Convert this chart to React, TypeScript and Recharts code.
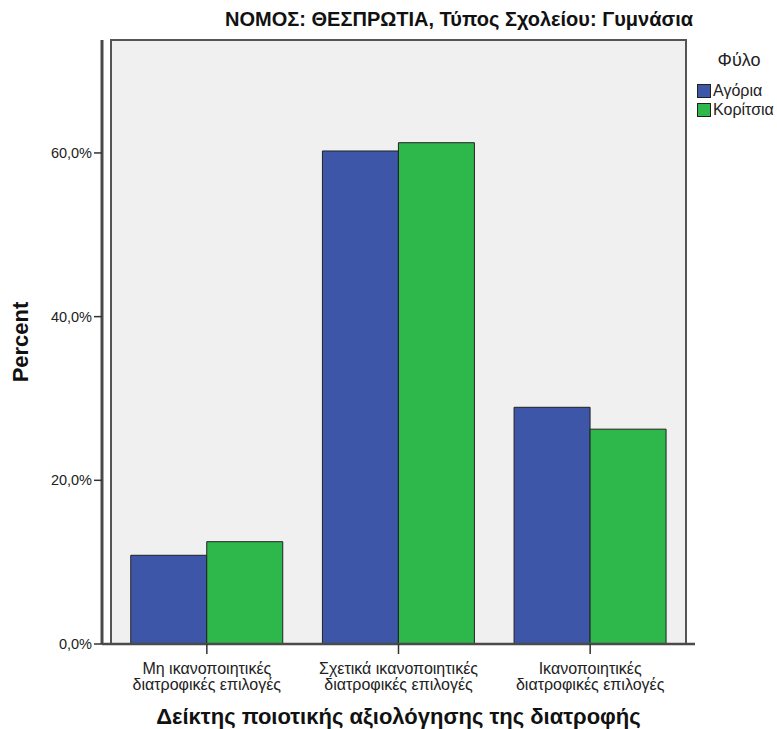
import React from "react";
import { BarChart, Bar, XAxis, YAxis, ReferenceArea } from "recharts";

const categories = [
  "Μη ικανοποιητικές διατροφικές επιλογές",
  "Σχετικά ικανοποιητικές διατροφικές επιλογές",
  "Ικανοποιητικές διατροφικές επιλογές",
];
const boys = [10.84, 60.24, 28.92];
const girls = [12.5, 61.25, 26.25];
const yTicks = [0, 20, 40, 60];
const yMax = 73.8;

const seriesNames = { boys: "Αγόρια", girls: "Κορίτσια" };
const colors = { boys: "#3D56A8", girls: "#2EB74A" };

const data = categories.map((c, i) => ({ category: c, boys: boys[i], girls: girls[i] }));

const FONT = "'Liberation Sans', Arial, sans-serif";

const fmt = (v: number) => v.toFixed(1).replace(".", ",") + "%";

const XTick = (props: any) => {
  const { x, y, payload } = props;
  const words = String(payload.value).split(" ");
  const line1 = words.slice(0, -2).join(" ");
  const line2 = words.slice(-2).join(" ");
  return (
    <g>
      <text x={x} y={y + 18} textAnchor="middle" fontSize={16} fill="#222" fontFamily={FONT}>
        {line1}
      </text>
      <text x={x} y={y + 34} textAnchor="middle" fontSize={16} fill="#222" fontFamily={FONT}>
        {line2}
      </text>
    </g>
  );
};

const LegendBox = () => (
  <div style={{ position: "absolute", left: 697, top: 50, width: 80, fontFamily: FONT, color: "#222" }}>
    <div style={{ fontSize: 18, textAlign: "center", paddingLeft: 4, marginBottom: 10 }}>Φύλο</div>
    {(["boys", "girls"] as const).map((k) => (
      <div key={k} style={{ display: "flex", alignItems: "center", height: 19, fontSize: 16, whiteSpace: "nowrap" }}>
        <span
          style={{
            display: "inline-block",
            flex: "none",
            width: 12,
            height: 12,
            background: colors[k],
            border: "1px solid #222",
            marginRight: 2,
          }}
        />
        {seriesNames[k]}
      </div>
    ))}
  </div>
);

export default function App() {
  return (
    <div style={{ position: "absolute", left: 0, top: 0, width: 777, height: 729, background: "#fff", overflow: "hidden" }}>
      <div
        style={{
          position: "absolute",
          right: 84,
          top: 8,
          fontFamily: FONT,
          fontWeight: "bold",
          fontSize: 20,
          color: "#111",
          whiteSpace: "nowrap",
        }}
      >
        ΝΟΜΟΣ: ΘΕΣΠΡΩΤΙΑ, Τύπος Σχολείου: Γυμνάσια
      </div>
      <LegendBox />
      <BarChart
        width={777}
        height={729}
        data={data}
        margin={{ top: 40, right: 82, bottom: 0, left: 40 }}
        barCategoryGap="10.3%"
        barGap={0}
      >
        <ReferenceArea
          y1={0}
          y2={yMax}
          ifOverflow="visible"
          fill="#F0F0F0"
          fillOpacity={1}
          stroke="#555"
          strokeWidth={2}
        />
        <XAxis
          dataKey="category"
          height={85}
          padding={{ left: 9, right: 9 }}
          interval={0}
          tick={<XTick />}
          tickSize={10}
          tickLine={{ stroke: "#333", strokeWidth: 1.5 }}
          axisLine={{ stroke: "#4a4a4a", strokeWidth: 2.5 }}
          label={{
            value: "Δείκτης ποιοτικής αξιολόγησης της διατροφής",
            position: "insideBottom",
            offset: 5,
            style: { fontFamily: FONT, fontWeight: "bold", fontSize: 22, fill: "#111" },
          }}
        />
        <YAxis
          width={62}
          domain={[0, yMax]}
          ticks={yTicks}
          allowDataOverflow
          tickFormatter={fmt}
          tickSize={8}
          tickMargin={2}
          tick={{ fontFamily: FONT, fontSize: 14.5, fill: "#222" }}
          tickLine={{ stroke: "#333", strokeWidth: 1.5 }}
          axisLine={{ stroke: "#4a4a4a", strokeWidth: 3 }}
          label={{
            value: "Percent",
            angle: -90,
            position: "insideLeft",
            offset: -20,
            style: { fontFamily: FONT, fontWeight: "bold", fontSize: 22, fill: "#111", textAnchor: "middle" },
          }}
        />
        <Bar
          dataKey="boys"
          name={seriesNames.boys}
          fill={colors.boys}
          stroke="#222"
          strokeWidth={1}
          isAnimationActive={false}
        />
        <Bar
          dataKey="girls"
          name={seriesNames.girls}
          fill={colors.girls}
          stroke="#222"
          strokeWidth={1}
          isAnimationActive={false}
        />
      </BarChart>
    </div>
  );
}
